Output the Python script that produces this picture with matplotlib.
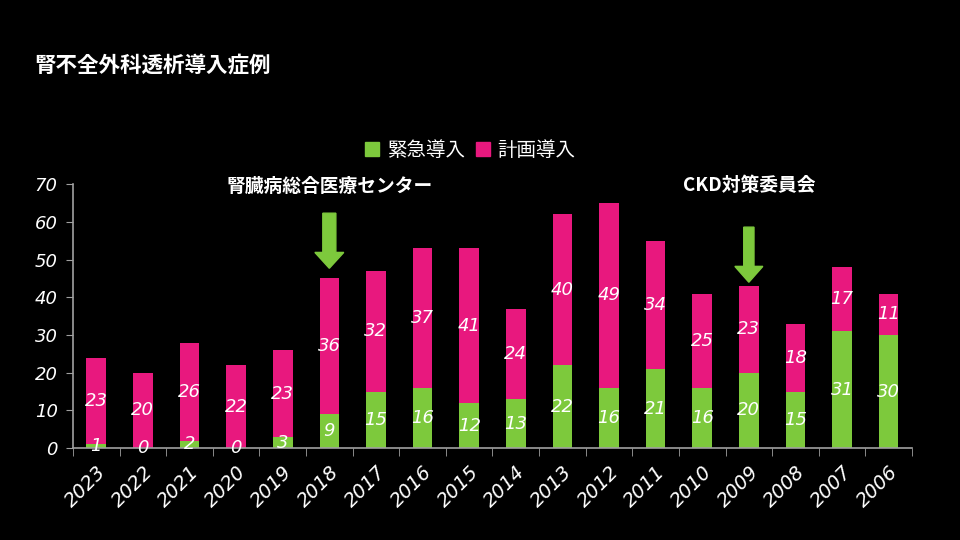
import matplotlib.pyplot as plt
from matplotlib.patches import FancyArrow, Patch
import numpy as np

plt.rcParams['font.family'] = ['Noto Sans CJK JP', 'DejaVu Sans']

years = ['2023', '2022', '2021', '2020', '2019', '2018', '2017', '2016', '2015',
         '2014', '2013', '2012', '2011', '2010', '2009', '2008', '2007', '2006']
emergency = [1, 0, 2, 0, 3, 9, 15, 16, 12, 13, 22, 16, 21, 16, 20, 15, 31, 30]
planned = [23, 20, 26, 22, 23, 36, 32, 37, 41, 24, 40, 49, 34, 25, 23, 18, 17, 11]

GREEN = '#7dc93c'
PINK = '#e8187e'
AXIS = '#a0a0a0'
num_font = 'DejaVu Sans'

fig = plt.figure(figsize=(9.6, 5.4), dpi=100, facecolor='black')
ax = fig.add_axes([0.076, 0.170, 0.874, 0.489])
ax.set_facecolor('black')

x = np.arange(len(years))
em = np.array(emergency)
pl = np.array(planned)
ax.bar(x, em, width=0.42, color=GREEN, zorder=2)
ax.bar(x, pl, width=0.42, bottom=em, color=PINK, zorder=2)

# value labels centred in each segment
for i in x:
    ax.text(i, em[i] / 2, str(em[i]), ha='center', va='center', color='white',
            fontsize=13, family=num_font, style='italic', zorder=3)
    ax.text(i, em[i] + pl[i] / 2, str(pl[i]), ha='center', va='center', color='white',
            fontsize=13, family=num_font, style='italic', zorder=3)

ax.set_xlim(-0.5, len(years) - 0.5)
ax.set_ylim(0, 70)
ax.set_yticks(range(0, 71, 10))
ax.set_yticklabels([str(v) for v in range(0, 71, 10)], family=num_font,
                   style='italic', fontsize=13, color='white')
ax.set_xticks(x)
ax.set_xticklabels(years, rotation=45, ha='right', rotation_mode='anchor',
                   family=num_font, style='italic', fontsize=14, color='white')
ax.set_xticks(np.arange(-0.5, len(years)), minor=True)
ax.tick_params(axis='x', which='major', length=0, pad=10)
ax.tick_params(axis='x', which='minor', length=6, color=AXIS, direction='out')
ax.tick_params(axis='y', length=5, color=AXIS, pad=6)
for s in ['top', 'right']:
    ax.spines[s].set_visible(False)
for s in ['left', 'bottom']:
    ax.spines[s].set_color(AXIS)
    ax.spines[s].set_linewidth(1.2)

# annotations with arrows
ax.text(5, 69.3, '腎臓病総合医療センター', ha='center', va='center', color='white',
        fontsize=13.5, fontweight='bold', clip_on=False)
ax.add_patch(FancyArrow(5, 62.3, 0, -14.6, width=0.28, head_width=0.62,
                        head_length=4.2, length_includes_head=True,
                        color=GREEN, clip_on=False, zorder=4))
ax.text(14, 69.7, 'CKD対策委員会', ha='center', va='center', color='white',
        fontsize=13.5, fontweight='bold', clip_on=False)
ax.add_patch(FancyArrow(14, 58.6, 0, -14.6, width=0.22, head_width=0.6,
                        head_length=4.2, length_includes_head=True,
                        color=GREEN, clip_on=False, zorder=4))

fig.text(0.036, 0.88, '腎不全外科透析導入症例', color='white', fontsize=15.5,
         fontweight='bold', ha='left', va='center')

handles = [Patch(color=GREEN, label='緊急導入'), Patch(color=PINK, label='計画導入')]
leg = fig.legend(handles=handles, loc='center', bbox_to_anchor=(0.49, 0.722), ncol=2,
                 frameon=False, fontsize=14, handlelength=0.7, handleheight=0.7,
                 handletextpad=0.4, columnspacing=0.6)
for t in leg.get_texts():
    t.set_color('white')

fig.savefig('out.png', dpi=100, facecolor='black')
